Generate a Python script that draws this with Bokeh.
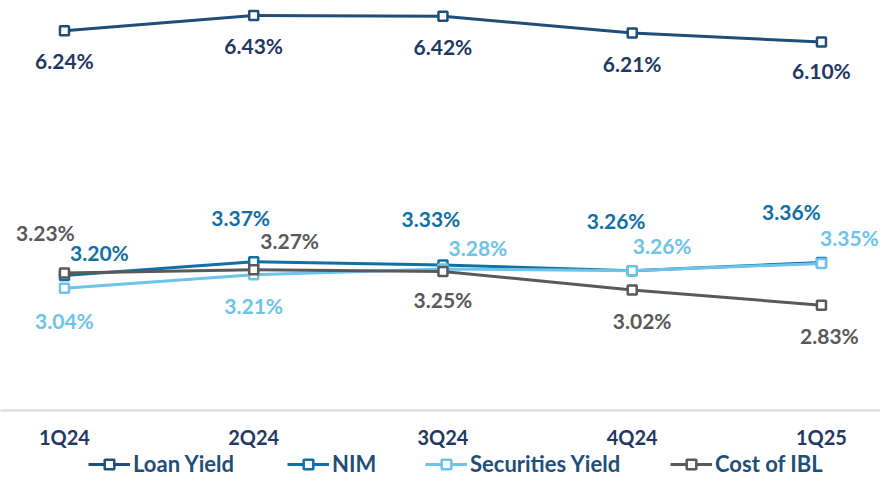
from bokeh.plotting import figure
from bokeh.models import (ColumnDataSource, Range1d, FixedTicker, Legend, LegendItem)
from bokeh.layouts import column
from bokeh.core.properties import value
from bokeh.embed import file_html
from bokeh.resources import INLINE

# ---- data ----
quarters = ["1Q24", "2Q24", "3Q24", "4Q24", "1Q25"]
loan_yield = [6.24, 6.43, 6.42, 6.21, 6.10]
nim = [3.20, 3.37, 3.33, 3.26, 3.36]
securities_yield = [3.04, 3.21, 3.28, 3.26, 3.35]
cost_of_ibl = [3.23, 3.27, 3.25, 3.02, 2.83]

series_names = ["Loan Yield", "NIM", "Securities Yield", "Cost of IBL"]

# ---- style ----
line_colors = ["#1F4E79", "#0F6FA6", "#6DC3EA", "#595959"]
label_colors = ["#1F3864", "#0F6FA6", "#6DC3EA", "#595959"]
# label offsets in screen px (dx, dy) per point
label_dx = [
    [0, 0, 0, 0, 0],
    [35, -13, -12, -16, -30],
    [0, 0, 35, 30, 28],
    [-19, 36, 0, 10, 8],
]
label_dy = [
    [30, 30, 30, 30, 29],
    [-23, -44, -47, -50, -51],
    [32, 31, -22, -25, -26],
    [-41, -29, 28, 31, 30],
]
legend_x = [88, 287, 425, 670]

FONT = "Lato"

p = figure(width=880, height=451, output_backend="svg", toolbar_location=None,
           x_range=Range1d(-0.338, 4.312), y_range=Range1d(1.523, 6.615),
           min_border_left=0, min_border_right=0, min_border_top=0,
           min_border_bottom=39)
p.outline_line_color = None
p.grid.visible = False
p.yaxis.visible = False
p.background_fill_color = "white"
p.border_fill_color = "white"

xs = list(range(len(quarters)))
all_series = [loan_yield, nim, securities_yield, cost_of_ibl]

for i, vals in enumerate(all_series):
    src = ColumnDataSource(dict(x=xs, y=vals))
    p.line("x", "y", source=src, line_color=line_colors[i], line_width=3)
    p.scatter("x", "y", source=src, marker="square", size=9,
              line_color=line_colors[i], line_width=2.5, fill_color="white")

for i, vals in enumerate(all_series):
    src = ColumnDataSource(dict(
        x=xs, y=vals,
        label=[f"{v:.2f}%" for v in vals],
        dx=label_dx[i], dy=label_dy[i],
    ))
    p.text("x", "y", text="label", source=src, x_offset="dx", y_offset="dy",
           text_font=value(FONT), text_font_style="bold", text_font_size="21px",
           text_color=label_colors[i], text_align="center", text_baseline="middle")

ax = p.xaxis[0]
ax.ticker = FixedTicker(ticks=xs)
ax.major_label_overrides = {i: q for i, q in enumerate(quarters)}
ax.minor_tick_line_color = None
ax.major_tick_line_color = None
ax.major_tick_out = 0
ax.major_tick_in = 0
ax.axis_line_color = "#D9D9D9"
ax.axis_line_width = 2
ax.major_label_standoff = 14
ax.major_label_text_font = FONT
ax.major_label_text_font_style = "bold"
ax.major_label_text_font_size = "20px"
ax.major_label_text_color = "#1F3864"

# ---- legend strip (separate figure so the legend sits below the axis) ----
pl = figure(width=880, height=26, output_backend="svg", toolbar_location=None,
            x_axis_type=None, y_axis_type=None,
            x_range=Range1d(-0.338, 4.312), y_range=Range1d(1.523, 6.615),
            min_border_left=0, min_border_right=0, min_border_top=0,
            min_border_bottom=0)
pl.outline_line_color = None
pl.grid.visible = False
pl.background_fill_color = "white"
pl.border_fill_color = "white"

for i, vals in enumerate(all_series):
    src = ColumnDataSource(dict(x=xs, y=vals))
    lr = pl.line("x", "y", source=src, line_color=line_colors[i], line_width=3,
                 visible=False)
    sr = pl.scatter("x", "y", source=src, marker="square", size=9,
                    line_color=line_colors[i], line_width=2.5, fill_color="white",
                    visible=False)
    leg = Legend(items=[LegendItem(label=series_names[i], renderers=[lr, sr])],
                 location=(legend_x[i], 0), orientation="horizontal",
                 glyph_width=42, glyph_height=24, label_standoff=3,
                 padding=0, margin=0, spacing=0,
                 border_line_color=None, background_fill_alpha=0,
                 inactive_fill_alpha=0,
                 label_text_font=FONT, label_text_font_style="bold",
                 label_text_font_size="22px", label_text_color="#1F4E79")
    pl.add_layout(leg)

layout = column(p, pl, spacing=0)

open("out.html", "w").write(file_html(layout, INLINE))
